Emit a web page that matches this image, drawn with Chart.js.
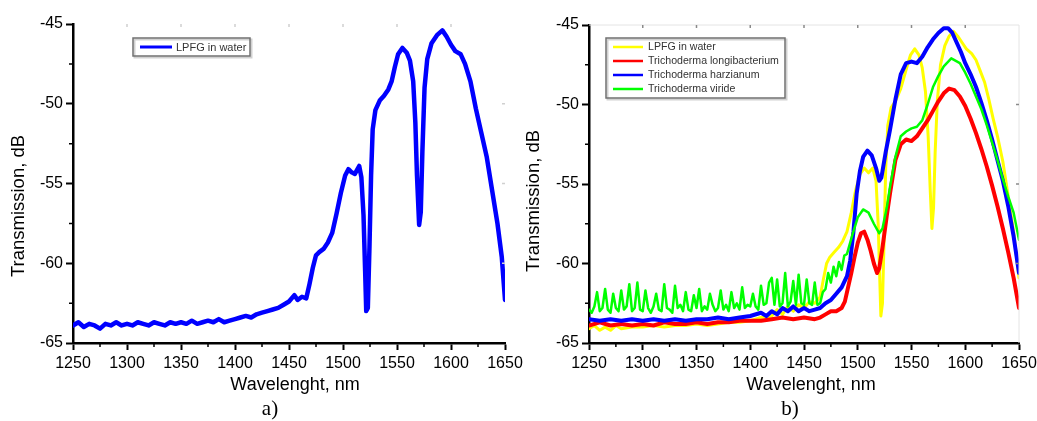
<!DOCTYPE html>
<html lang="en">
<head>
<meta charset="UTF-8">
<title>LPFG transmission spectra</title>
<script src="https://cdn.jsdelivr.net/npm/chart.js"></script>
<style>
  html, body { margin: 0; padding: 0; background: #fff; overflow: hidden; }
  body { width: 1037px; height: 421px; position: relative; }
  .panel { position: absolute; top: 0; width: 540px; height: 421px; }
  #panelA { left: 0; }
  #panelB { left: 510px; }
  .caption { position: absolute; top: 396px; transform: translateX(-50%);
             font-family: "Liberation Serif", "Times New Roman", serif; font-size: 21px; color: #000; }
</style>
</head>
<body>
<div class="panel" id="panelA"><canvas id="chartA" width="540" height="421"></canvas></div>
<div class="panel" id="panelB"><canvas id="chartB" width="540" height="421"></canvas></div>
<div class="caption" style="left:270px">a)</div>
<div class="caption" style="left:790px">b)</div>

<script>
// axis ticks
const xTicksAt = [1250, 1300, 1350, 1400, 1450, 1500, 1550, 1600, 1650];
const yTicksAt = [-65, -60, -55, -50, -45];
const xMinorAt = [1275, 1325, 1375, 1425, 1475, 1525, 1575, 1625];
const yMinorAt = [-62.5, -57.5, -52.5, -47.5];

// panel a) LPFG in water
const waterANm = [1250, 1255, 1260, 1265, 1270, 1275, 1280, 1285, 1290, 1295,
  1300, 1305, 1310, 1315, 1320, 1325, 1330, 1335, 1340, 1345,
  1350, 1355, 1360, 1365, 1370, 1375, 1380, 1385, 1390, 1395,
  1400, 1405, 1410, 1415, 1420, 1425, 1430, 1435, 1440, 1445,
  1450, 1455, 1458, 1462, 1466, 1469, 1472, 1475, 1478, 1482,
  1486, 1490, 1494, 1498, 1502, 1505, 1508, 1511, 1515, 1517,
  1519, 1520.5, 1521.5, 1523, 1524.5, 1526, 1527.5, 1530, 1534, 1538,
  1542, 1545, 1548, 1551, 1555, 1559, 1562, 1565, 1567, 1568.5,
  1570.5, 1572, 1573.5, 1575.5, 1578, 1582, 1587, 1592, 1596, 1600,
  1604, 1609, 1613, 1618, 1623, 1628, 1633, 1638, 1643, 1647, 1650];
const waterADb = [-63.9, -63.7, -64.0, -63.8, -63.9, -64.1, -63.8, -63.9, -63.7, -63.9,
  -63.8, -63.9, -63.7, -63.8, -63.9, -63.7, -63.8, -63.9, -63.7, -63.8,
  -63.7, -63.8, -63.6, -63.8, -63.7, -63.6, -63.7, -63.5, -63.7, -63.6,
  -63.5, -63.4, -63.3, -63.4, -63.2, -63.1, -63.0, -62.9, -62.8, -62.6,
  -62.4, -62.0, -62.3, -62.1, -62.2, -61.3, -60.3, -59.5, -59.3, -59.1,
  -58.7, -58.1, -56.9, -55.6, -54.5, -54.1, -54.3, -54.4, -53.9, -54.6,
  -57.0, -60.5, -63.0, -62.8, -59.0, -54.5, -51.6, -50.4, -49.8, -49.5,
  -49.1, -48.6, -47.7, -46.9, -46.5, -46.8, -47.3, -48.6, -51.2, -54.5,
  -57.6, -56.8, -53.0, -49.0, -47.2, -46.2, -45.7, -45.4, -45.8, -46.3,
  -46.7, -46.9, -47.5, -48.6, -50.3, -51.8, -53.3, -55.4, -57.5, -59.6, -62.3];

// panel b) LPFG in water
const waterBNm = [1250, 1255, 1260, 1265, 1270, 1275, 1280, 1290, 1300, 1310,
  1320, 1330, 1340, 1350, 1360, 1370, 1380, 1390, 1400, 1410,
  1420, 1425, 1430, 1435, 1440, 1445, 1450, 1455, 1460, 1465,
  1468, 1471, 1474, 1478, 1482, 1486, 1490, 1494, 1498, 1502,
  1506, 1510, 1514, 1517, 1519, 1520.5, 1521.5, 1523, 1524.5, 1526,
  1528, 1531, 1535, 1540, 1545, 1549, 1553, 1557, 1560, 1563,
  1565.5, 1567.5, 1569, 1570.5, 1572, 1574, 1577, 1581, 1585, 1589,
  1593, 1597, 1601, 1606, 1610, 1614, 1618, 1622, 1626, 1630,
  1635, 1640, 1645, 1650];
const waterBDb = [-64.1, -63.9, -64.2, -64.0, -64.2, -63.9, -64.1, -64.0, -64.0, -63.9,
  -64.0, -63.9, -63.9, -63.8, -63.9, -63.8, -63.7, -63.7, -63.6, -63.4,
  -63.3, -62.9, -63.2, -62.7, -63.0, -62.6, -62.8, -62.4, -62.5, -62.1,
  -61.0, -60.0, -59.6, -59.3, -59.0, -58.6, -58.0, -56.8, -55.4, -54.4,
  -54.0, -54.3, -54.0, -54.8, -57.5, -61.0, -63.3, -62.5, -58.5, -54.0,
  -51.3, -50.2, -49.8, -49.0, -47.8, -46.9, -46.5, -46.9, -47.7, -49.2,
  -52.0, -55.5, -57.8, -56.5, -53.0, -49.8, -47.5, -46.3, -45.7, -45.4,
  -45.7, -46.1, -46.5, -46.8, -47.2, -47.9, -48.6, -49.7, -50.9, -52.0,
  -53.6, -55.8, -58.0, -60.9];

// Trichoderma longibacterium
const longiNm = [1250, 1260, 1270, 1280, 1290, 1300, 1310, 1320, 1330, 1340,
  1350, 1360, 1370, 1380, 1390, 1400, 1410, 1420, 1430, 1440,
  1450, 1460, 1465, 1470, 1475, 1480, 1485, 1488, 1491, 1494,
  1497, 1500, 1503, 1506, 1509, 1512, 1515, 1518, 1520, 1523,
  1527, 1530, 1535, 1540, 1545, 1550, 1555, 1560, 1565, 1570,
  1575, 1580, 1585, 1590, 1595, 1600, 1605, 1610, 1615, 1620,
  1625, 1630, 1635, 1640, 1645, 1650];
const longiDb = [-63.9, -63.7, -63.9, -63.8, -63.9, -63.8, -63.9, -63.7, -63.8, -63.8,
  -63.7, -63.8, -63.7, -63.7, -63.6, -63.6, -63.6, -63.5, -63.4, -63.5,
  -63.4, -63.5, -63.4, -63.2, -63.0, -63.0, -62.8, -62.4, -61.5, -60.6,
  -59.6, -58.7, -58.1, -58.0, -58.5, -59.2, -60.0, -60.6, -60.3, -59.0,
  -57.0, -55.6, -53.5, -52.5, -52.2, -52.3, -52.0, -51.5, -51.0, -50.4,
  -49.8, -49.3, -49.0, -49.1, -49.5, -50.1, -50.9, -51.8, -52.8, -53.9,
  -55.1, -56.4, -57.8, -59.3, -60.9, -62.8];

// Trichoderma harzianum
const harzNm = [1250, 1260, 1270, 1280, 1290, 1300, 1310, 1320, 1330, 1340,
  1350, 1360, 1370, 1380, 1390, 1400, 1410, 1415, 1420, 1425,
  1430, 1435, 1440, 1445, 1450, 1455, 1460, 1465, 1470, 1475,
  1480, 1485, 1490, 1493, 1496, 1499, 1502, 1505, 1509, 1513,
  1517, 1520, 1522, 1526, 1530, 1535, 1540, 1545, 1550, 1555,
  1560, 1565, 1570, 1575, 1580, 1584, 1588, 1592, 1596, 1600,
  1605, 1610, 1615, 1620, 1625, 1630, 1635, 1640, 1645, 1650];
const harzDb = [-63.5, -63.6, -63.5, -63.6, -63.5, -63.6, -63.5, -63.6, -63.5, -63.6,
  -63.5, -63.5, -63.4, -63.5, -63.4, -63.3, -63.1, -63.3, -63.0, -63.2,
  -62.8, -63.0, -62.7, -63.0, -62.8, -63.0, -62.9, -62.8, -62.5, -62.3,
  -61.9, -61.5, -60.8, -59.8, -58.0, -55.6, -54.2, -53.3, -52.9, -53.2,
  -54.0, -54.8, -54.6, -53.0, -51.6, -49.7, -48.1, -47.4, -47.3, -47.4,
  -47.0, -46.4, -45.9, -45.5, -45.2, -45.2, -45.5, -46.1, -46.7, -47.4,
  -48.1, -48.9, -49.9, -51.0, -52.2, -53.5, -54.8, -56.4, -58.3, -60.6];

// Trichoderma viride
const virideNm = [1250, 1252.5, 1255, 1257.5, 1260, 1262.5, 1265, 1267.5, 1270, 1272.5,
  1275, 1277.5, 1280, 1282.5, 1285, 1287.5, 1290, 1292.5, 1295, 1297.5,
  1300, 1302.5, 1305, 1307.5, 1310, 1312.5, 1315, 1317.5, 1320, 1322.5,
  1325, 1327.5, 1330, 1332.5, 1335, 1337.5, 1340, 1342.5, 1345, 1347.5,
  1350, 1352.5, 1355, 1357.5, 1360, 1362.5, 1365, 1367.5, 1370, 1372.5,
  1375, 1377.5, 1380, 1382.5, 1385, 1387.5, 1390, 1392.5, 1395, 1397.5,
  1400, 1402.5, 1405, 1407.5, 1410, 1412.5, 1415, 1417.5, 1420, 1422.5,
  1425, 1427.5, 1430, 1432.5, 1435, 1437.5, 1440, 1442.5, 1445, 1447.5,
  1450, 1452.5, 1455, 1457.5, 1460, 1462.5, 1465, 1467.5,
  1470, 1472.5, 1475, 1477.5, 1480, 1482.5, 1485, 1487.5, 1490, 1495,
  1500, 1505, 1510, 1515, 1520, 1523, 1527, 1530, 1535, 1540,
  1545, 1550, 1555, 1560, 1565, 1570, 1575, 1580, 1587, 1595,
  1600, 1605, 1610, 1615, 1620, 1625, 1630, 1635, 1640, 1645, 1650];
const virideDb = [-62.9, -63.1, -62.7, -61.8, -63.0, -62.8, -61.6, -62.9, -63.1, -61.9,
  -62.8, -63.0, -61.7, -62.9, -62.7, -61.3, -63.0, -62.8, -61.2, -62.9,
  -63.0, -61.7, -62.8, -63.1, -62.7, -61.9, -62.9, -63.0, -61.3, -62.8,
  -62.9, -63.1, -61.4, -62.8, -62.6, -63.0, -61.8, -62.9, -63.0, -62.0,
  -62.8, -61.6, -63.0, -62.7, -62.9, -61.9, -62.6, -63.0, -62.8, -61.7,
  -62.9, -62.6, -63.0, -61.8, -62.8, -62.5, -62.9, -61.5, -62.8, -62.6,
  -62.7, -61.9, -62.7, -62.9, -61.4, -62.6, -62.5, -61.2, -60.9, -62.6,
  -61.0, -62.7, -62.5, -60.6, -62.7, -62.4, -61.1, -62.6, -60.7, -62.5,
  -62.6, -61.0, -62.5, -62.6, -61.2, -62.6, -62.5, -61.8,
  -61.6, -60.6, -61.2, -60.2, -60.8, -59.9, -60.4, -59.5, -59.4, -58.2,
  -57.1, -56.6, -56.8, -57.5, -58.1, -57.8, -56.5, -55.2, -53.3, -52.0,
  -51.7, -51.5, -51.4, -51.0, -50.0, -48.9, -48.2, -47.6, -47.1, -47.4,
  -48.0, -48.7, -49.5, -50.3, -51.3, -52.4, -53.5, -54.7, -55.8, -56.8, -58.5];

const pts = (xs, ys) => xs.map((v, i) => ({ x: v, y: ys[i] }));
const FONT = '"Liberation Sans", Arial, sans-serif';

// legend box drawn inside the plot
const boxLegend = {
  id: 'boxLegend',
  afterDatasetsDraw(chart, args, o) {
    const ctx = chart.ctx;
    ctx.save();
    ctx.fillStyle = '#fff';
    ctx.fillRect(o.left, o.top, o.width, o.height);
    ctx.strokeStyle = 'rgba(0,0,0,0.18)';
    ctx.lineWidth = 2;
    ctx.strokeRect(o.left + 1.5, o.top + 1.5, o.width, o.height);
    ctx.strokeStyle = '#707070';
    ctx.lineWidth = 1.5;
    ctx.strokeRect(o.left, o.top, o.width, o.height);
    ctx.font = o.fontSize + 'px ' + FONT;
    ctx.textBaseline = 'middle';
    chart.data.datasets.forEach((ds, i) => {
      const y = o.firstRow + i * o.rowGap;
      ctx.strokeStyle = ds.borderColor;
      ctx.lineWidth = o.sampleWidth;
      ctx.beginPath();
      ctx.moveTo(o.sampleX, y);
      ctx.lineTo(o.sampleX + o.sampleLen, y);
      ctx.stroke();
      ctx.fillStyle = '#333';
      ctx.fillText(ds.label, o.textX, y + 0.5);
    });
    ctx.restore();
  }
};

// minor ticks, the faint marks on the top / right edges, axis titles
const frameMarks = {
  id: 'frameMarks',
  afterDraw(chart, args, o) {
    const { ctx, chartArea: a, scales: { x, y } } = chart;
    ctx.save();
    ctx.strokeStyle = '#000';
    ctx.lineWidth = 1.5;
    ctx.beginPath();
    xMinorAt.forEach(v => {
      const px = x.getPixelForValue(v);
      ctx.moveTo(px, a.bottom); ctx.lineTo(px, a.bottom + 4);
    });
    yMinorAt.forEach(v => {
      const py = y.getPixelForValue(v);
      ctx.moveTo(a.left, py); ctx.lineTo(a.left - 4, py);
    });
    ctx.stroke();
    if (o.frameColor) {
      ctx.strokeStyle = o.frameColor;
      ctx.lineWidth = 1;
      ctx.beginPath();
      ctx.moveTo(a.left, a.top); ctx.lineTo(a.right, a.top); ctx.lineTo(a.right, a.bottom);
      ctx.stroke();
    }
    ctx.strokeStyle = o.markColor;
    ctx.lineWidth = 1.5;
    ctx.beginPath();
    xTicksAt.slice(1, -1).forEach(v => {
      const px = x.getPixelForValue(v);
      ctx.moveTo(px, a.top); ctx.lineTo(px, a.top + 3);
    });
    yTicksAt.slice(1, -1).forEach(v => {
      const py = y.getPixelForValue(v);
      ctx.moveTo(a.right, py); ctx.lineTo(a.right - 3, py);
    });
    ctx.stroke();

    // axis titles
    ctx.fillStyle = '#000';
    ctx.textAlign = 'center';
    ctx.textBaseline = 'middle';
    ctx.font = '18px ' + FONT;
    ctx.fillText('Wavelenght, nm', o.xTitleX, o.xTitleY);
    ctx.translate(o.yTitleX, o.yTitleY);
    ctx.rotate(-Math.PI / 2);
    ctx.font = '18.5px ' + FONT;
    ctx.fillText('Transmission, dB', 0, 0);
    ctx.restore();
  }
};

function makeOptions(padding, yWidth, legend, frame) {
  return {
    responsive: false,
    animation: false,
    layout: { padding: padding },
    plugins: {
      legend: { display: false },
      tooltip: { enabled: false },
      boxLegend: legend,
      frameMarks: frame
    },
    elements: { point: { radius: 0 }, line: { tension: 0, borderJoinStyle: 'round', borderCapStyle: 'round' } },
    scales: {
      x: {
        type: 'linear', min: 1250, max: 1650,
        afterBuildTicks: s => { s.ticks = xTicksAt.map(v => ({ value: v })); },
        afterFit: s => { s.height = 58; },
        grid: { drawOnChartArea: false, tickLength: 7, tickColor: '#000', tickWidth: 2 },
        border: { color: '#000', width: 2.5 },
        ticks: { color: '#000', padding: 4, maxRotation: 0, callback: v => String(v),
                 font: { family: FONT, size: 16 } },
        title: { display: false }
      },
      y: {
        min: -65, max: -45,
        afterBuildTicks: s => { s.ticks = yTicksAt.map(v => ({ value: v })); },
        afterFit: s => { s.width = yWidth; },
        grid: { drawOnChartArea: false, tickLength: 7, tickColor: '#000', tickWidth: 2 },
        border: { color: '#000', width: 2.5 },
        ticks: { color: '#000', padding: 3, callback: v => String(v),
                 font: { family: FONT, size: 16 } },
        title: { display: false }
      }
    }
  };
}

new Chart(document.getElementById('chartA'), {
  type: 'line',
  data: {
    datasets: [
      { label: 'LPFG in water', data: pts(waterANm, waterADb), borderColor: '#0000ff', borderWidth: 4.5 }
    ]
  },
  options: makeOptions({ left: 4, right: 35, top: 24, bottom: 20 }, 69,
    { left: 133, top: 38, width: 117, height: 18, firstRow: 47, rowGap: 14, fontSize: 11,
      sampleX: 140, sampleLen: 32, sampleWidth: 3, textX: 176 },
    { markColor: '#d0d0d0', frameColor: null,
      xTitleX: 295, xTitleY: 385, yTitleX: 19, yTitleY: 206 }),
  plugins: [boxLegend, frameMarks]
});

new Chart(document.getElementById('chartB'), {
  type: 'line',
  data: {
    datasets: [
      { label: 'LPFG in water', data: pts(waterBNm, waterBDb), borderColor: '#ffff00', borderWidth: 3, order: 3 },
      { label: 'Trichoderma longibacterium', data: pts(longiNm, longiDb), borderColor: '#ff0000', borderWidth: 4, order: 2 },
      { label: 'Trichoderma harzianum', data: pts(harzNm, harzDb), borderColor: '#0000ff', borderWidth: 4, order: 1 },
      { label: 'Trichoderma viride', data: pts(virideNm, virideDb), borderColor: '#00ff00', borderWidth: 2.5, order: 0 }
    ]
  },
  options: makeOptions({ left: 4, right: 31, top: 25, bottom: 20 }, 75,
    { left: 96, top: 38, width: 179, height: 60, firstRow: 47, rowGap: 14, fontSize: 10.6,
      sampleX: 103, sampleLen: 30, sampleWidth: 2.5, textX: 138 },
    { markColor: '#8a8a8a', frameColor: '#e4e4e4',
      xTitleX: 301, xTitleY: 385, yTitleX: 24, yTitleY: 201 }),
  plugins: [boxLegend, frameMarks]
});
</script>
</body>
</html>
